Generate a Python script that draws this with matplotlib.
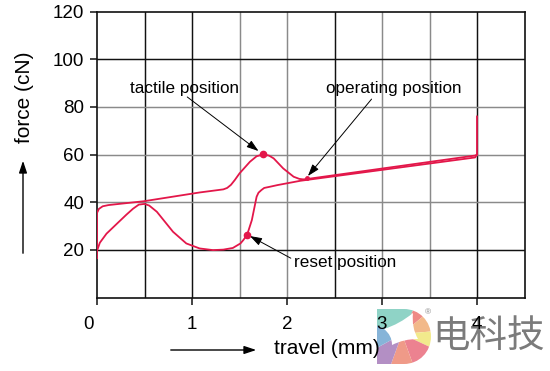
import numpy as np
import matplotlib.pyplot as plt
from matplotlib.patches import Wedge, PathPatch, FancyArrowPatch
from matplotlib.path import Path
from matplotlib.transforms import ScaledTranslation

plt.rcParams['font.family'] = ['Liberation Sans', 'DejaVu Sans']

# ===== data =====
# pressing (forward) stroke
press_x = [0, 0, 0.02, 0.06, 0.12, 0.21, 0.49, 1.08, 1.33, 1.37, 1.41, 1.45, 1.50,
           1.61, 1.68, 1.75, 1.81, 1.86, 1.96, 2.07, 2.13, 2.17, 2.22, 3.98, 4.0, 4.0]
press_y = [16.5, 35.5, 37.2, 38.3, 38.8, 39.2, 40.4, 44.1, 45.4, 46.0, 47.3, 49.3, 52.1,
           57.0, 59.3, 60.1, 59.6, 58.4, 54.2, 50.7, 49.8, 49.6, 49.8, 59.6, 60.0, 76.0]

# release (return) stroke
release_x = [4.0, 3.98, 2.14, 1.90, 1.82, 1.76, 1.73, 1.70, 1.68, 1.63, 1.58, 1.54,
             1.51, 1.43, 1.33, 1.22, 1.08, 0.94, 0.80, 0.63, 0.55, 0.50, 0.44, 0.38,
             0.31, 0.21, 0.10, 0.03, 0]
release_y = [60.0, 58.8, 49.0, 47.2, 46.5, 46.0, 45.1, 44.0, 42.3, 32.5, 26.3, 24.1,
             22.7, 20.8, 20.1, 19.9, 20.6, 22.7, 27.6, 36.0, 38.6, 39.3, 39.0, 37.3,
             34.8, 31.0, 26.8, 23.0, 19.6]

# marked points
tactile = (1.75, 60.1)
operating = (2.21, 50.2)
reset = (1.58, 26.3)

x_ticks = [0, 1, 2, 3, 4]
y_ticks = [20, 40, 60, 80, 100, 120]

RED = '#e3174a'

fig = plt.figure(figsize=(5.5, 3.71), dpi=100)
ax = fig.add_axes([97 / 550, 1 - 297.5 / 371, 427.5 / 550, 285.8 / 371])
ax.set_zorder(3)
ax.patch.set_visible(False)
ax.set_xlim(0, 4.5)
ax.set_ylim(0, 120)

# grid (lines alternate dark / grey as in the scan)
v_grid = [(0.5, '#111111'), (1.0, '#111111'), (1.5, '#8a8a8a'), (2.0, '#8a8a8a'),
          (2.5, '#111111'), (3.0, '#8a8a8a'), (3.5, '#8a8a8a'), (4.0, '#111111')]
h_grid = [(20, '#111111'), (40, '#8a8a8a'), (60, '#8a8a8a'), (80, '#8a8a8a'), (100, '#111111')]
for xv, c in v_grid:
    ax.axvline(xv, color=c, lw=1.05, zorder=1)
for yv, c in h_grid:
    ax.axhline(yv, color=c, lw=1.05, zorder=1)

for s in ax.spines.values():
    s.set_color('#111111')
    s.set_linewidth(1.2)

ax.set_xticks(x_ticks)
ax.set_yticks(y_ticks)
ax.tick_params(direction='out', length=5, width=1.1, labelsize=13.5, pad=8, color='#111111')
ax.tick_params(axis='y', pad=4)
lbl0 = ax.get_xticklabels()[0]
lbl0.set_transform(lbl0.get_transform() + ScaledTranslation(-8 / 100, 0, fig.dpi_scale_trans))

# curves
ax.plot(press_x, press_y, color=RED, lw=1.3, zorder=3, solid_joinstyle='round')
ax.plot(release_x, release_y, color=RED, lw=1.3, zorder=3, solid_joinstyle='round')
for p in (tactile, reset):
    ax.plot(*p, 'o', color=RED, ms=4.5, zorder=4)
ax.plot(*operating, 'o', color=RED, ms=2.5, zorder=4)

# annotations
arrow = dict(arrowstyle='-|>,head_length=0.6,head_width=0.2', color='black', lw=0.7,
             mutation_scale=12, shrinkA=0, shrinkB=0)
ax.text(0.92, 87.9, 'tactile position', fontsize=12.3, ha='center', va='center')
ax.annotate('', xy=(1.70, 61.5), xytext=(0.95, 84.2), arrowprops=arrow)
ax.text(3.12, 87.9, 'operating position', fontsize=12.3, ha='center', va='center')
ax.annotate('', xy=(2.22, 51.0), xytext=(2.89, 83.3), arrowprops=arrow)
ax.text(2.07, 14.8, 'reset position', fontsize=12.3, ha='left', va='center')
ax.annotate('', xy=(1.61, 25.8), xytext=(2.04, 16.5), arrowprops=arrow)

# axis labels with arrows
fig.text(25 / 550, 1 - 97 / 371, 'force (cN)', rotation=90, fontsize=15,
         ha='center', va='center')
fig.text(327 / 550, 1 - 349 / 371, 'travel (mm)', fontsize=15, ha='center', va='center',
         zorder=5)
fig.patches.append(FancyArrowPatch(
    (23 / 550, 1 - 256 / 371), (23 / 550, 1 - 158 / 371), transform=fig.transFigure,
    arrowstyle='-|>,head_length=0.6,head_width=0.2', mutation_scale=12, lw=1.0, color='black'))
fig.patches.append(FancyArrowPatch(
    (168 / 550, 1 - 350 / 371), (259 / 550, 1 - 350 / 371), transform=fig.transFigure,
    arrowstyle='-|>,head_length=0.6,head_width=0.2', mutation_scale=12, lw=1.0, color='black'))

# watermark logo (D shape of coloured petals around a white centre)
lg = fig.add_axes([377 / 550, 1 - 364 / 371, 55 / 550, 55 / 371])
lg.set_zorder(1)
lg.set_xlim(0, 55)
lg.set_ylim(0, 55)
lg.axis('off')
d_path = Path([(0, 0), (27, 0), (42, 0), (54, 12), (54, 27.5), (54, 43), (42, 55),
               (27, 55), (0, 55), (0, 0)],
              [Path.MOVETO, Path.LINETO, Path.CURVE4, Path.CURVE4, Path.CURVE4,
               Path.CURVE4, Path.CURVE4, Path.CURVE4, Path.LINETO, Path.CLOSEPOLY])
clip = PathPatch(d_path, transform=lg.transData, fc='none', ec='none')
lg.add_patch(clip)
segs = [(65, 162, '#8fd3c6'), (40, 65, '#ee8a86'), (5, 40, '#f2b98a'),
        (-25, 5, '#f2ea8c'), (-70, -25, '#ec8290'), (-110, -70, '#ef9a88'),
        (-151, -110, '#b38fc4'), (162, 209, '#86b4d8')]
for a0, a1, c in segs:
    w = Wedge((25, 30), 60, a0, a1, fc=c, ec='none', zorder=1)
    lg.add_patch(w)
    w.set_clip_path(clip)
verts = [(7, 35), (36, 51), (41, 25), (15, 19)]
cen = np.mean(verts, axis=0)
star_pts = [verts[0]]
for i in range(4):
    a, b = np.array(verts[i]), np.array(verts[(i + 1) % 4])
    mid = (a + b) / 2
    star_pts += [tuple(mid + 0.3 * (cen - mid)), tuple(b)]
star = Path(star_pts, [Path.MOVETO] + [Path.CURVE3] * 8)
lg.add_patch(PathPatch(star, fc='white', ec='none', zorder=5))
fig.text(428 / 550, 1 - 313 / 371, '®', fontsize=6, color='#888888', ha='center', va='center')
fig.text(432 / 550, 1 - 336 / 371, '电科技', fontsize=27, color='#7b7b7b', ha='left', va='center',
         family=['Noto Sans CJK SC', 'DejaVu Sans'], zorder=0)

fig.savefig('out.png', dpi=100)
